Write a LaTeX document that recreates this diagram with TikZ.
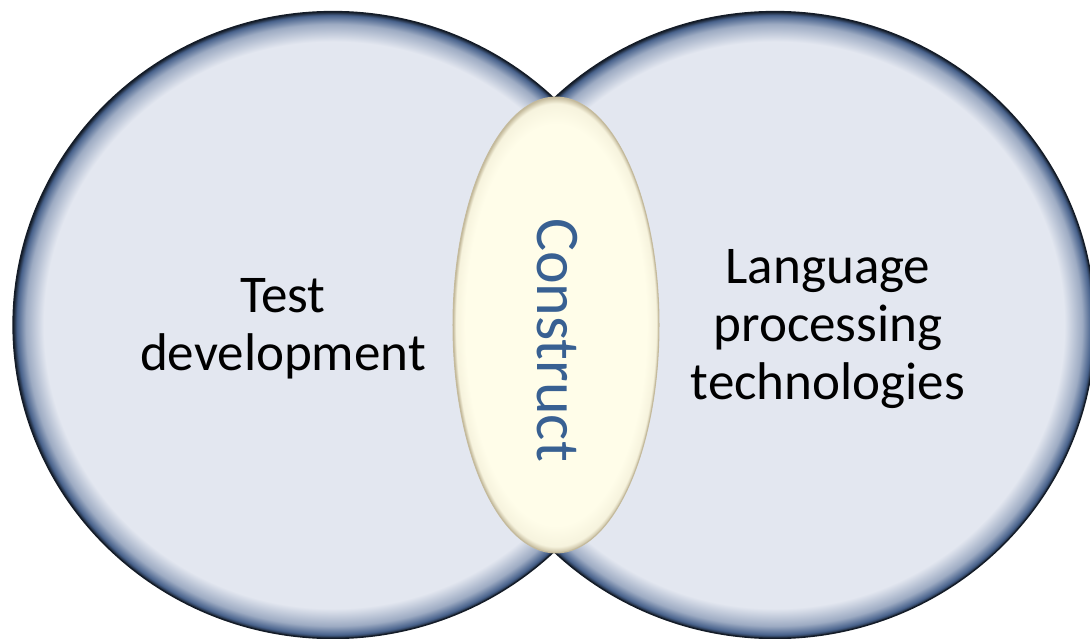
\documentclass[tikz,border=0pt]{standalone}
\usepackage{fontspec}
\setmainfont{Carlito}
\usetikzlibrary{shapes.geometric}
\definecolor{ringfill}{RGB}{227,231,240}
\definecolor{ringedge}{RGB}{72,98,140}
\definecolor{ringdark}{RGB}{20,28,40}
\definecolor{lensfill}{RGB}{255,253,233}
\definecolor{lensedge}{RGB}{196,186,156}
\definecolor{constructblue}{RGB}{56,96,146}
\pgfdeclareradialshading{ringbevel}{\pgfpoint{0bp}{0bp}}{color(0bp)=(ringfill); color(22.6bp)=(ringfill); color(24bp)=(ringedge!45!ringfill); color(24.7bp)=(ringedge); color(25bp)=(ringdark); color(50bp)=(ringdark)}
\pgfdeclareradialshading{lensglow}{\pgfpoint{0bp}{0bp}}{color(0bp)=(lensfill); color(22bp)=(lensfill); color(24.3bp)=(lensfill!85!lensedge); color(25bp)=(lensedge); color(50bp)=(lensedge)}
\begin{document}
\begin{tikzpicture}[x=0.02cm, y=-0.02cm,
    ring/.style={ellipse, draw=ringdark, line width=0.8pt, shading=ringbevel,
        minimum width=12.8cm, minimum height=12.54cm, inner sep=0pt},
    lens/.style={ellipse, draw=lensedge, line width=0.6pt, shading=lensglow,
        minimum width=4.12cm, minimum height=9.12cm, inner sep=0pt},
    ringtext/.style={align=center, font=\fontsize{30.2}{33}\selectfont}]
    \useasboundingbox (0,0) rectangle (1090,639);
    % the two fields
    \node (testring) [ring] at (333,325) {};
    \node (langring) [ring] at (775,325) {};
    % overlap
    \node (constructlens) [lens] at (556,325) {};
    \node (testlabel) [ringtext] at (283,329) {Test\\development};
    \node (langlabel) [ringtext] at (828,329) {Language\\processing\\technologies};
    \node (constructlabel) [rotate=-90, text=constructblue,
        font=\fontsize{35.3}{40}\selectfont] at (557,340) {Construct};
\end{tikzpicture}
\end{document}
